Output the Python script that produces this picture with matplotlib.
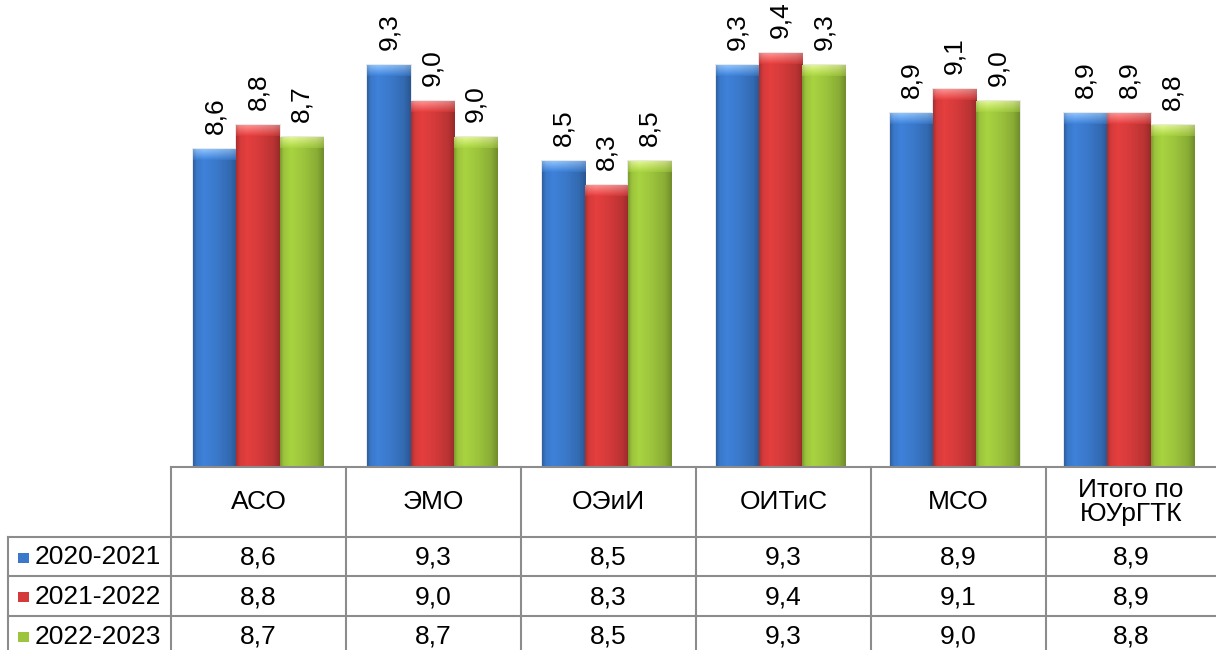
import numpy as np
import matplotlib
matplotlib.use('Agg')
import matplotlib.pyplot as plt
from matplotlib.colors import to_rgb

plt.rcParams['font.family'] = ['Liberation Sans', 'DejaVu Sans']

# Данные
categories = ['АСО', 'ЭМО', 'ОЭиИ', 'ОИТиС', 'МСО', 'Итого по\nЮУрГТК']
series_names = ['2020-2021', '2021-2022', '2022-2023']
values_2020 = [8.6, 9.3, 8.5, 9.3, 8.9, 8.9]
values_2021 = [8.8, 9.0, 8.3, 9.4, 9.1, 8.9]
values_2022 = [8.7, 8.7, 8.5, 9.3, 9.0, 8.8]
# подписи над столбцами (как на исходной диаграмме)
labels_2020 = ['8,6', '9,3', '8,5', '9,3', '8,9', '8,9']
labels_2021 = ['8,8', '9,0', '8,3', '9,4', '9,1', '8,9']
labels_2022 = ['8,7', '9,0', '8,5', '9,3', '9,0', '8,8']

series_values = [values_2020, values_2021, values_2022]
series_labels = [labels_2020, labels_2021, labels_2022]
colors = ['#3a78c9', '#d43a3a', '#9cc43c']
top_colors = ['#86baf5', '#f58a8a', '#d6ec86']

FS = 19
W, H = 1216, 650
fig = plt.figure(figsize=(W / 100, H / 100), dpi=100)

# область графика (в пикселях: x 171..1216, y 0..467)
ax = fig.add_axes([171 / W, (H - 467) / H, (W - 171) / W, 467 / H])
ymin, px_per_unit = 5.95, 120.0
ax.set_xlim(0, len(categories))
ax.set_ylim(ymin, ymin + 467 / px_per_unit)
ax.axis('off')

bar_w = 0.248
bevel = 11 / px_per_unit
t_keys = [0.0, 0.08, 0.25, 0.55, 0.85, 1.0]
f_keys = [0.80, 1.00, 1.08, 1.0, 0.88, 0.72]
prof = np.interp(np.linspace(0, 1, 60), t_keys, f_keys)

for s, vals in enumerate(series_values):
    base = np.array(to_rgb(colors[s]))
    top = np.array(to_rgb(top_colors[s]))
    body = np.clip(prof[None, :, None] * base[None, None, :], 0, 1)
    for i, v in enumerate(vals):
        x0 = i + 0.5 + (s - 1.5) * bar_w
        x1 = x0 + bar_w
        # тень
        ax.add_patch(plt.Rectangle((x0 - 0.006, ymin), bar_w + 0.012, v - ymin + 0.01,
                                   color='#e8e8e8', zorder=1, lw=0))
        ax.imshow(body, extent=(x0, x1, ymin, v - bevel), aspect='auto',
                  interpolation='bilinear', zorder=2)
        vt = np.linspace(0, 1, 12)[:, None, None]
        cap = np.clip((1 - vt) * top + vt * base * 1.05, 0, 1) * np.ones((1, 60, 3))
        cap = np.clip(cap * (0.4 + 0.6 * prof[None, :, None]), 0, 1)
        ax.imshow(cap, extent=(x0, x1, v - bevel, v), aspect='auto',
                  interpolation='bilinear', zorder=2)
        ax.annotate(series_labels[s][i], xy=(x0 + bar_w / 2, v), xytext=(0, 11),
                    textcoords='offset points', rotation=90, ha='center', va='bottom',
                    fontsize=FS, color='black', zorder=3)

# таблица данных (координаты в пикселях)
tab = fig.add_axes([0, 0, 1, 1])
tab.set_xlim(0, W)
tab.set_ylim(H, 0)
tab.axis('off')
tab.patch.set_alpha(0)

col_x = [171 + 175 * k for k in range(len(categories) + 1)]
col_x[-1] = W
row_y = [467, 537, 576, 616, 655]
line_c = '#8c8c8c'

tab.plot([171, W], [467, 467], color=line_c, lw=1.5)
for y in row_y[1:4]:
    tab.plot([8, W], [y, y], color=line_c, lw=1.5)
for x in col_x[:-1]:
    tab.plot([x, x], [467, H], color=line_c, lw=1.5)
tab.plot([8, 8], [537, H], color=line_c, lw=1.5)

for k, cat in enumerate(categories):
    cx = (col_x[k] + col_x[k + 1]) / 2
    tab.text(cx, 502, cat, ha='center', va='center', fontsize=FS, linespacing=1.05)

for s, vals in enumerate(series_values):
    cy = (row_y[s + 1] + row_y[s + 2]) / 2 + 1
    tab.add_patch(plt.Rectangle((18, cy - 5), 11, 10, color=colors[s], lw=0))
    tab.text(35, cy, series_names[s], ha='left', va='center', fontsize=FS)
    for k, v in enumerate(vals):
        cx = (col_x[k] + col_x[k + 1]) / 2
        tab.text(cx, cy, f'{v:.1f}'.replace('.', ','), ha='center', va='center',
                 fontsize=FS)

fig.savefig('out.png', dpi=100)
